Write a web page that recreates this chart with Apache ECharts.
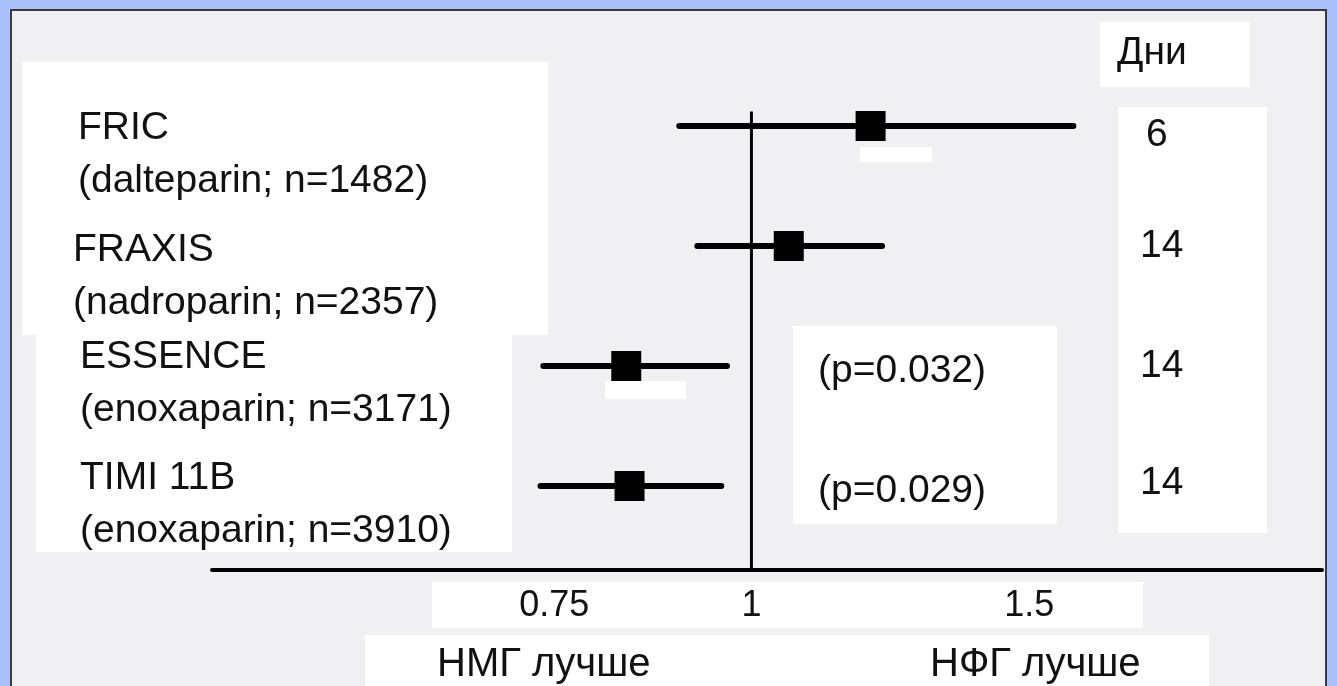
<!DOCTYPE html>
<html>
<head>
<meta charset="utf-8">
<script src="https://cdn.jsdelivr.net/npm/echarts@6/dist/echarts.min.js"></script>
<style>
html,body{margin:0;padding:0;background:#a9c0fb;}
#chart{width:1337px;height:686px;}
</style>
</head>
<body>
<div id="chart"></div>
<script>
// ---- data ----
const studies = ['FRIC', 'FRAXIS', 'ESSENCE', 'TIMI 11B'];
const drugs = ['(dalteparin; n=1482)', '(nadroparin; n=2357)', '(enoxaparin; n=3171)', '(enoxaparin; n=3910)'];
const estimate = [1.19, 1.056, 0.833, 0.837];
const ciLow = [0.90, 0.924, 0.738, 0.735];
const ciHigh = [1.60, 1.21, 0.965, 0.957];
const days = ['6', '14', '14', '14'];
const pValues = ['', '', '(p=0.032)', '(p=0.029)'];
const rows = [4, 3, 2, 1];
const tickValues = [0.75, 1, 1.5];
const tickLabels = ['0.75', '1', '1.5'];
const refValue = 1;
const refTop = 4.12;
const daysTitle = 'Дни';
const sideLabels = ['НМГ лучше', 'НФГ лучше'];

// ---- layout (pixels, not data) ----
const FONT = '"Liberation Sans", Arial, Helvetica, sans-serif';
const FS = 39;
const X_MIN = 0.455, X_MAX = 2.3, Y_MIN = 0.3, Y_MAX = 4.8;
const LABEL_X = [78, 73, 80, 80];
const LABEL_DY = [2, 4, -9, -8];
const DAYS_X = [1146, 1140, 1140, 1140];
const DAYS_DY = [9, 0, 0, -3];
const P_X = 818, P_DY = 5;
const LINE_H = 53;

const chart = echarts.init(document.getElementById('chart'), null, {renderer: 'canvas'});

function box(x, y, w, h) {
  return {type: 'rect', z: -5, shape: {x, y, width: w, height: h}, style: {fill: '#ffffff'}, silent: true};
}
function txt(x, y, s, fs) {
  return {type: 'text', z: 10, x, y, style: {text: s, font: (fs || FS) + 'px ' + FONT, fill: '#111', verticalAlign: 'middle'}, silent: true};
}
function t(x, y, s, fs, align) {
  return {type: 'text', x, y, style: {text: s, font: (fs || FS) + 'px ' + FONT, fill: '#111', align: align || 'left', verticalAlign: 'middle'}};
}

const option = {
  backgroundColor: '#a9c0fb',
  animation: false,
  grid: {left: 212, right: 15, top: 30, bottom: 116, containLabel: false, outerBoundsMode: 'none'},
  xAxis: {
    type: 'log', min: X_MIN, max: X_MAX,
    axisLine: {show: true, lineStyle: {color: '#000', width: 4}},
    axisTick: {show: false}, axisLabel: {show: false}, splitLine: {show: false}, minorSplitLine: {show: false}
  },
  yAxis: {
    type: 'value', min: Y_MIN, max: Y_MAX,
    axisLine: {show: false}, axisTick: {show: false}, splitLine: {show: false}, axisLabel: {show: false}
  },
  graphic: [
    {type: 'rect', z: -10, shape: {x: 11, y: 10, width: 1315, height: 700}, style: {fill: '#f0f0f2', stroke: '#3a3a3a', lineWidth: 2}, silent: true},
    box(22, 62, 526, 273),
    box(36, 335, 476, 217),
    box(1100, 22, 150, 65),
    box(1118, 107, 149, 426),
    box(793, 326, 264, 198),
    box(432, 582, 711, 46),
    box(365, 635, 844, 60),
    box(860, 147, 72, 15),
    box(605, 381, 81, 18),
    txt(1117, 53, daysTitle),
    txt(437, 665, sideLabels[0], 40),
    txt(930, 665, sideLabels[1], 40)
  ],
  series: [
    {
      type: 'line', data: [[refValue, Y_MIN], [refValue, refTop]], symbol: 'none',
      lineStyle: {color: '#000', width: 3}, z: 3, silent: true
    },
    {
      type: 'custom', z: 5, silent: true,
      encode: {x: [1, 2, 3], y: 0},
      data: rows.map((r, i) => [r, ciLow[i], estimate[i], ciHigh[i]]),
      renderItem: function (params, api) {
        const r = api.value(0);
        const pL = api.coord([api.value(1), r]);
        const pE = api.coord([api.value(2), r]);
        const pH = api.coord([api.value(3), r]);
        return {type: 'group', children: [
          {type: 'line', shape: {x1: pL[0], y1: pL[1], x2: pH[0], y2: pH[1]}, style: {stroke: '#000', lineWidth: 6, lineCap: 'round'}},
          {type: 'rect', shape: {x: pE[0] - 15, y: pE[1] - 15, width: 30, height: 30}, style: {fill: '#000'}}
        ]};
      }
    },
    {
      type: 'custom', z: 6, silent: true,
      encode: {y: 0},
      data: rows.map((r, i) => [r, i]),
      renderItem: function (params, api) {
        const r = api.value(0), i = api.value(1);
        const p = api.coord([1, r]);
        const y0 = p[1] + LABEL_DY[i];
        const kids = [
          t(LABEL_X[i], y0, studies[i]),
          t(LABEL_X[i], y0 + LINE_H, drugs[i]),
          t(DAYS_X[i], p[1] + DAYS_DY[i], days[i])
        ];
        if (pValues[i]) kids.push(t(P_X, p[1] + P_DY, pValues[i]));
        return {type: 'group', children: kids};
      }
    },
    {
      type: 'custom', z: 6, silent: true,
      encode: {x: 0},
      data: tickValues.map((v, i) => [v, i]),
      renderItem: function (params, api) {
        const v = api.value(0), i = api.value(1);
        const p = api.coord([v, Y_MIN]);
        return t(p[0], p[1] + 36, tickLabels[i], 36, 'center');
      }
    }
  ]
};
chart.setOption(option);
</script>
</body>
</html>
